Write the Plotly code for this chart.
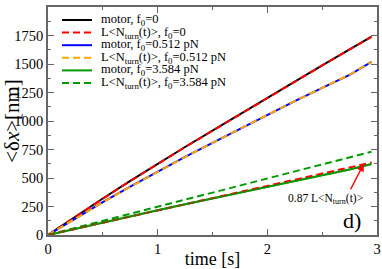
import plotly.graph_objects as go

# time samples [s]
t = [0, 0.25, 0.5, 0.75, 1.0, 1.25, 1.5, 1.75, 2.0, 2.25, 2.5, 2.75, 2.95]

motor_f0 = [0, 162, 320, 475, 627, 772, 915, 1060, 1203, 1345, 1487, 1628, 1740]
lnturn_f0 = [0, 161, 318, 473, 625, 771, 914, 1059, 1202, 1344, 1487, 1628, 1738]
motor_f0512 = [0, 145, 288, 424, 556, 685, 808, 932, 1055, 1175, 1290, 1405, 1518]
lnturn_f0512 = [0, 144, 287, 423, 555, 684, 808, 932, 1055, 1175, 1291, 1406, 1518]
motor_f3584 = [0, 56, 111, 165, 218, 270, 322, 373, 424, 474, 524, 575, 622]
lnturn_f3584 = [0, 62, 124, 186, 248, 310, 372, 434, 496, 558, 620, 682, 731]
lnturn087_f3584 = [0, 54, 108, 162, 216, 270, 324, 378, 432, 485, 539, 593, 636]

x_ticks = [0, 1, 2, 3]
y_ticks = [0, 250, 500, 750, 1000, 1250, 1500, 1750, 2000]

names = [
    "motor, f<sub>0</sub>=0",
    "L&lt;N<sub>turn</sub>(t)&gt;, f<sub>0</sub>=0",
    "motor, f<sub>0</sub>=0.512 pN",
    "L&lt;N<sub>turn</sub>(t)&gt;, f<sub>0</sub>=0.512 pN",
    "motor, f<sub>0</sub>=3.584 pN",
    "L&lt;N<sub>turn</sub>(t)&gt;, f<sub>0</sub>=3.584 pN",
]
series = [motor_f0, lnturn_f0, motor_f0512, lnturn_f0512, motor_f3584, lnturn_f3584]
colors = ["#000000", "#ff0000", "#0000ff", "#ffa500", "#009900", "#009900"]
dashes = ["solid", "7px,4px", "solid", "7px,4px", "solid", "7px,4px"]

FONT = "Liberation Serif, Times New Roman, serif"
TXT = "#000000"
FRAME = "#666666"

fig = go.Figure()
for nm, ys, c, d in zip(names, series, colors, dashes):
    fig.add_trace(go.Scatter(x=t, y=ys, mode="lines", name=nm, showlegend=False,
                             line=dict(color=c, width=2, dash=d)))
fig.add_trace(go.Scatter(x=t, y=lnturn087_f3584, mode="lines", showlegend=False,
                         line=dict(color="#ff0000", width=2, dash="7px,4px")))
fig.add_trace(go.Scatter(x=t, y=motor_f3584, mode="lines", showlegend=False,
                         line=dict(color="#009900", width=2), opacity=0.6))

# manual legend (plot area: 48..377 px wide, 7..235 px tall)
PL, PW, PT, PH = 48, 329, 7, 228
for i, (nm, c, d) in enumerate(zip(names, colors, dashes)):
    py = 20 + i * 12.6
    yp = (PT + PH - py) / PH
    fig.add_shape(type="line", xref="paper", yref="paper",
                  x0=(62 - PL) / PW, x1=(92 - PL) / PW, y0=yp, y1=yp,
                  line=dict(color=c, width=2, dash=d))
    fig.add_annotation(xref="paper", yref="paper", x=(99 - PL) / PW, y=yp,
                       xanchor="left", yanchor="middle", text=nm, showarrow=False,
                       font=dict(family=FONT, size=12.5, color=TXT))

axis_common = dict(showline=True, linecolor=FRAME, linewidth=1.5, mirror="allticks",
                   ticks="inside", tickcolor=FRAME, ticklen=6, tickwidth=1,
                   showgrid=False, zeroline=False, automargin=False,
                   tickfont=dict(family=FONT, size=14.5, color=TXT))

fig.update_xaxes(range=[0, 3], tickvals=x_ticks,
                 minor=dict(ticks="inside", ticklen=3, tickcolor=FRAME, dtick=0.5),
                 title=dict(text="time [s]", font=dict(family=FONT, size=18, color=TXT), standoff=0),
                 **axis_common)
fig.update_yaxes(range=[0, 2000], tickvals=y_ticks,
                 minor=dict(ticks="inside", ticklen=3, tickcolor=FRAME, dtick=125),
                 title=dict(text="&lt;δ<i>x</i>&gt;[nm]", font=dict(family=FONT, size=21, color=TXT), standoff=0),
                 **axis_common)

fig.add_annotation(x=2.88, y=625, ax=-14, ay=27,
                   xref="x", yref="y",
                   showarrow=True, arrowhead=2, arrowsize=1, arrowwidth=1.5, arrowcolor="#ff0000", text="")
fig.add_annotation(x=2.53, y=320, xref="x", yref="y", text="0.87 L&lt;N<sub>turn</sub>(t)&gt;",
                   showarrow=False, font=dict(family=FONT, size=11.5, color=TXT))
fig.add_annotation(x=2.77, y=125, xref="x", yref="y", text="d)", showarrow=False,
                   font=dict(family=FONT, size=22, color=TXT))

fig.update_layout(
    width=382, height=269, autosize=False,
    margin=dict(l=48, r=5, t=7, b=34, autoexpand=False),
    paper_bgcolor="white", plot_bgcolor="white",
    font=dict(family=FONT, color=TXT),
    showlegend=False,
)

html = fig.to_html(include_plotlyjs=True, full_html=True, config={"displayModeBar": False})
html = html.replace("<head>", "<head><style>html,body{margin:0;padding:0;overflow:hidden;}</style>", 1)
with open("out.html", "w", encoding="utf-8") as f:
    f.write(html)
